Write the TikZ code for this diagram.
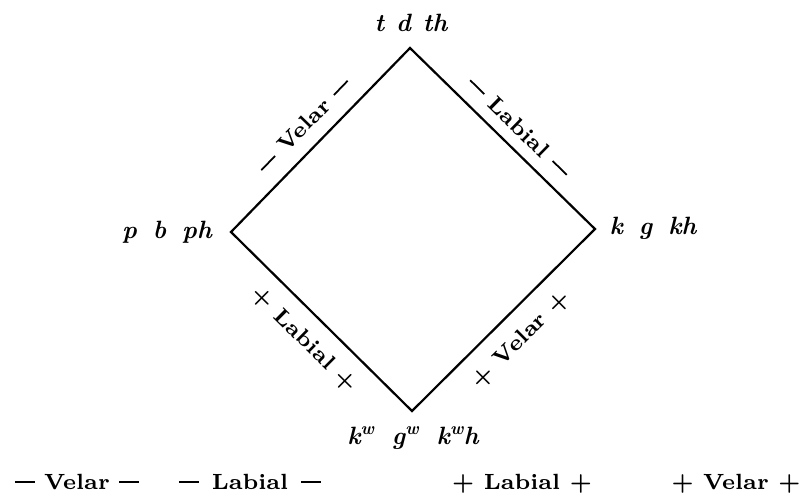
\documentclass[tikz,border=0pt]{standalone}
\usepackage{fontspec}
\newfontfamily\lblfont{lmroman7-bold.otf}
\newfontfamily\vtxfont{lmroman10-bolditalic.otf}
\newcommand\dsh{\rule[0.27em]{0.9em}{0.08em}}
\newcommand\gp[1]{\hspace{#1em}}
\begin{document}
\begin{tikzpicture}[x=1pt,y=-1pt,
  edge/.style={line width=2.2pt, line join=miter},
  lbl/.style={font=\fontsize{22}{26}\lblfont, inner sep=0pt},
  vtx/.style={font=\fontsize{25}{29}\vtxfont, inner sep=0pt, anchor=base}]
\useasboundingbox (0,0) rectangle (800,496);
\fill[white] (0,0) rectangle (800,496);
% diamond corners
\coordinate (T) at (410,48);
\coordinate (L) at (231,232);
\coordinate (R) at (595,229);
\coordinate (B) at (412,411);
\draw[edge] (T) -- (R) -- (B) -- (L) -- cycle;
% vertex labels
\node[vtx] (tl) at (411,31) {t\gp{0.48}d\gp{0.48}th};
\node[vtx] (ll) at (167,238) {p\gp{0.64}b\gp{0.64}ph};
\node[vtx] (rl) at (653,234) {k\gp{0.64}g\gp{0.64}kh};
\node[vtx] (bl) at (413,444) {k\textsuperscript{w}\gp{0.7}g\textsuperscript{w}\gp{0.7}k\textsuperscript{w}h};
% edge labels
\node[lbl, rotate=46] (e1) at (304,125) {\dsh{} Velar \dsh};
\node[lbl, rotate=-44.4] (e2) at (519,127) {\dsh{} Labial \dsh};
\node[lbl, rotate=-44.7] (e3) at (304,340) {+ Labial +};
\node[lbl, rotate=44.8] (e4) at (521,340) {+ Velar +};
% bottom row
\node[lbl, anchor=base] (b1) at (77,489) {\dsh{} Velar \dsh};
\node[lbl, anchor=base] (b2) at (250,489) {\dsh\gp{0.6}Labial\gp{0.6}\dsh};
\node[lbl, anchor=base] (b3) at (522,489) {+ Labial +};
\node[lbl, anchor=base] (b4) at (736,489) {+ Velar +};
\end{tikzpicture}
\end{document}
